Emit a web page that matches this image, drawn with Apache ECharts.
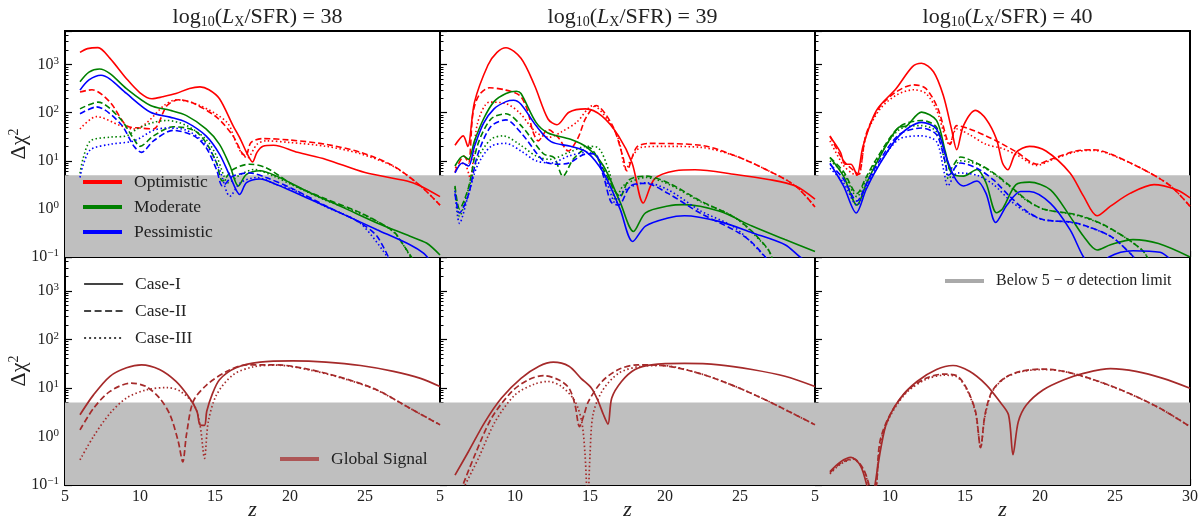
<!DOCTYPE html>
<html>
<head>
<meta charset="utf-8">
<script src="https://cdn.jsdelivr.net/npm/echarts@6/dist/echarts.min.js"></script>
<style>
    html, body { margin: 0; padding: 0; background: #fff; }
    #main { width: 1201px; height: 521px; }
</style>
</head>
<body>
<div id="main"></div>
<script>
// ---- 数据 [z, Δχ²] ----
// log10(Lx/SFR) = 38
var opt38_I = [[6,1800],[6.5,2150],[7.2,2260],[8,1350],[9.1,510],[10,260],[10.8,195],[11.5,214],[12.4,250],[13.3,320],[14,345],[14.6,300],[15.3,195],[16.2,54],[16.7,28],[17.1,15],[17.5,9.5],[17.8,15],[18.2,20],[18.9,21],[20.5,15],[22.4,10.7],[25,5.7],[27.8,3.8],[28.7,3.0],[30,1.8]];
var opt38_II = [[6,270],[6.8,300],[8,166],[9.1,54],[10,48],[10.9,46],[11.8,141],[12.6,186],[13.6,155],[15.1,81],[16.2,33],[16.8,14.5],[17.05,12.5],[17.4,24],[18.2,29],[20,27],[22.4,22],[24.7,15],[26.9,7.8],[28.7,3.0],[30,1.2]];
var opt38_III = [[6,46],[7.1,83],[8.7,54],[9.6,46],[10.4,60],[11.6,141],[12.4,186],[14,141],[15.8,63],[16.4,24],[16.8,14],[17.15,11.5],[17.8,22],[18.4,26],[20,24],[22.4,20],[24.7,14],[26.9,7.6],[28.7,3.0],[30,1.2]];
var mod38_I = [[6,440],[6.6,700],[7.3,810],[8,650],[9.1,316],[10.7,141],[12,112],[13.1,87],[14.4,46],[15.3,22],[16,7.8],[16.55,3.0],[17.1,5.2],[18,6.2],[19.1,4.8],[21.3,2.2],[23.6,1.05],[25.8,0.51],[28,0.27],[29.1,0.195],[30,0.11]];
var mod38_II = [[6,120],[7.2,166],[8.7,74],[9.6,28],[10,20],[10.9,33],[12.2,51],[13.6,43],[14.4,24],[15.1,9.1],[15.5,3.8],[16.2,6.6],[17.3,8.5],[18.4,7.2],[20.2,3.2],[22.4,1.6],[24.7,0.83],[26.9,0.34],[27.6,0.17],[28.3,0.08]];
var mod38_III = [[6,5.5],[6.2,11],[6.7,26],[8,31],[9.1,33],[9.8,46],[10.9,63],[11.8,69],[13.1,54],[14.4,28],[15.1,12.6],[15.6,4.8],[15.85,3.5],[16.7,5.2],[17.6,6.6],[18.9,4.8],[20.2,3.1],[22.4,1.5],[24.7,0.8],[26.9,0.33],[28.2,0.08]];
var pes38_I = [[6,295],[6.6,480],[7.4,600],[8,500],[9.1,251],[10.7,102],[12,81],[13.1,63],[14.4,33],[15.3,13.8],[16,4.8],[16.65,2.0],[17.1,3.5],[18,4.2],[19.1,3.2],[21.3,1.6],[23.6,0.76],[25.8,0.37],[28,0.18],[28.9,0.12],[29.4,0.08]];
var pes38_II = [[6,95],[7.1,132],[8.7,59],[9.6,20],[10.1,15],[10.9,26],[12.2,43],[13.6,33],[14.4,19],[15.1,6.6],[15.5,3.0],[16.2,4.8],[17.3,5.6],[18.4,4.5],[20.2,2.6],[22.4,1.15],[24.7,0.51],[25.8,0.27],[26.7,0.08]];
var pes38_III = [[6,4.5],[6.2,8],[6.7,17],[8,22],[9.6,26],[10.9,43],[11.8,48],[13.1,43],[14.4,22],[15.3,6.6],[16,1.84],[16.7,3.5],[17.8,4.5],[19.1,3.2],[20.2,2.5],[22.4,1.1],[24.7,0.5],[26.7,0.08]];

// log10(Lx/SFR) = 39
var opt39_I = [[6,21],[6.55,33],[6.85,20],[7.3,166],[8.2,980],[8.8,1800],[9.4,2240],[10.4,1350],[11.3,372],[12.2,74],[12.8,56],[13.6,102],[14.7,120],[15.8,85],[16.9,33],[17.8,9.1],[18.55,1.33],[19.3,4.2],[20.7,6.2],[22,6.5],[24.7,5.2],[26.9,4.1],[28.7,3.0],[30,1.6]];
var opt39_II = [[6,5.8],[6.6,12.6],[6.9,9],[7.2,100],[7.6,230],[8.3,330],[9.3,300],[10.3,230],[10.8,120],[11.2,40],[11.55,26],[12.2,45],[12.9,30],[13.55,16],[14.2,30],[14.7,75],[15.4,141],[16.5,54],[17.2,12],[17.45,6.2],[18.1,19],[18.9,23],[22.4,21],[24.7,12.6],[26.9,6.2],[28.7,3.0],[30,1.1]];
var opt39_III = [[6,7.2],[6.6,9],[7.0,4.5],[7.5,60],[8.3,166],[9.4,155],[10.3,100],[11.4,39],[12.3,31],[13.1,40],[14.1,63],[15.2,141],[16.2,70],[16.9,28],[17.4,6.6],[17.8,12],[18.4,19],[20,20],[22.4,19],[24.7,12.6],[26.9,6.2],[28.7,3.0],[30,1.1]];
var mod39_I = [[6,7.8],[6.55,12.6],[6.9,10.7],[7.3,26],[7.9,74],[8.6,170],[9.4,251],[10.1,280],[10.4,251],[11.4,63],[12.2,38],[13.7,28],[14.8,19],[15.9,7.8],[17,1.4],[17.9,0.34],[18.7,0.83],[20.2,1.15],[21.3,1.23],[23.6,0.9],[25.8,0.44],[28,0.23],[30,0.13]];
var mod39_II = [[6,3],[6.3,1.0],[6.9,2.8],[7.5,21],[8.4,74],[9.4,95],[10.5,50],[11.9,14],[12.6,11.7],[13.2,4.8],[13.9,11],[14.9,19],[15.9,6.6],[16.6,2.5],[17.0,1.8],[17.6,4],[18.7,4.8],[20.2,3.5],[22.4,1.45],[24.7,0.65],[25.8,0.34],[26.9,0.14],[27.2,0.08]];
var mod39_III = [[6,2.8],[6.3,0.7],[6.9,2.6],[7.5,11],[8.4,28],[9.2,33],[10.3,22],[11.4,12.6],[12.3,10.7],[13.6,15],[14.8,20],[15.5,19],[16.3,5.6],[16.7,1.5],[17.2,3],[18.2,4.2],[18.7,4.5],[20.2,3.3],[22.4,1.4],[24.7,0.65],[26.9,0.14],[27.2,0.08]];
var pes39_I = [[6,5.6],[6.5,9],[6.9,7.8],[7.3,20],[7.9,60],[8.6,120],[9.4,170],[9.9,182],[10.4,150],[11.4,54],[12.4,25],[13.7,20],[14.8,15],[15.9,5.6],[17,1.0],[17.85,0.21],[18.7,0.44],[20.2,0.65],[21.3,0.72],[23.6,0.55],[25.8,0.32],[28,0.18],[29,0.1],[29.5,0.08]];
var pes39_II = [[6,2.1],[6.3,0.82],[6.9,2.0],[7.5,13],[8.4,52],[9.4,71],[10.5,35],[11.9,10],[12.8,8.5],[13.6,9],[14.7,13.8],[15.3,14],[15.9,4.8],[16.4,1.4],[16.9,1.2],[17.7,3],[18.7,3.4],[20.2,2.1],[22.4,0.8],[24.7,0.35],[25.8,0.2],[26.8,0.09]];
var pes39_III = [[6,2.4],[6.3,0.5],[6.9,2.0],[7.5,8],[8.4,20],[9.4,23],[10.4,16],[11.4,10],[12.4,9],[13.6,12.6],[14.8,15],[15.5,12],[16.3,2.5],[16.7,1.3],[17.2,2.3],[18.2,3.3],[18.7,3.5],[20.2,2.5],[22.4,0.9],[24.7,0.4],[26.8,0.09]];

// log10(Lx/SFR) = 40
var opt40_I = [[6,32],[6.7,15],[7,8.5],[7.4,8.5],[7.8,5],[8.2,20],[9.1,112],[10.4,316],[11.5,910],[12.1,1070],[12.9,710],[13.55,230],[14.1,46],[14.45,17],[14.9,54],[15.7,112],[16.4,74],[17.1,28],[17.5,9],[17.85,6.5],[18.4,14.8],[19.3,20],[20.4,16],[22,5.6],[22.9,1.84],[23.8,0.72],[24.7,1.14],[26,2.1],[27.6,3.2],[29.1,2.5],[30,1.7]];
var opt40_II = [[6,33],[6.9,10],[7.6,6.2],[7.9,5.2],[8.4,35],[9.3,130],[10.4,270],[11.6,380],[12.4,316],[13.2,120],[13.8,28],[14.0,22],[14.45,54],[15.3,46],[16.4,33],[17.3,24],[18.5,14.8],[19.8,8.5],[20.7,10.7],[22.4,16],[23.6,17],[24.7,13.8],[26.9,6.6],[28.7,3.0],[30,1.13]];
var opt40_III = [[6,26],[6.9,8],[7.6,5.2],[7.9,5],[8.4,33],[9.3,115],[10.4,230],[11.6,300],[12.4,250],[13.1,115],[13.7,30],[13.95,22],[14.45,46],[15.3,35],[16.4,22],[17.5,18],[18.5,13],[19.8,8],[20.7,10.2],[22.4,15.5],[23.6,16.5],[24.7,13.5],[26.9,6.6],[28.7,3.0],[30,1.13]];
var mod40_I = [[6,11.7],[6.9,4.8],[7.8,1.2],[8.4,3.2],[9.1,9.1],[10.6,50],[11.1,53],[12.1,103],[13.1,69],[13.7,15],[14.1,5.6],[14.9,4.8],[15.8,6.6],[16.4,3.5],[17.1,0.83],[17.5,1.0],[18.4,3.2],[19.3,3.6],[20.7,2.5],[22,0.7],[22.9,0.27],[23.8,0.14],[24.7,0.18],[26.2,0.23],[27.9,0.19],[30,0.1]];
var mod40_II = [[6,11.7],[6.9,6],[7.8,2.1],[8.4,4.5],[9.1,11],[10.6,50],[12.1,69],[13.1,50],[13.8,10],[14.0,6.6],[14.7,12],[15.8,8.9],[16.9,5.6],[18,3.0],[19.1,1.55],[20.2,1.0],[22.4,0.76],[24.0,0.51],[25.8,0.24],[26.9,0.13],[27.3,0.08]];
var mod40_III = [[6,10],[6.9,5.5],[7.8,1.8],[8.4,4],[9.1,10],[10.6,44],[12.1,54],[13.1,40],[13.7,8],[13.9,4.2],[14.7,10],[15.8,8.5],[16.9,5.4],[18,2.9],[19.1,1.5],[20.2,1.0],[22.4,0.74],[24,0.5],[25.8,0.24],[26.9,0.13],[27.3,0.08]];
var pes40_I = [[6,8.9],[6.9,3.0],[7.75,0.82],[8.4,2.5],[9.1,6.6],[10.6,33],[12.1,63],[13.1,46],[13.8,10.7],[14.4,4],[14.9,3.0],[15.8,3.8],[16.4,2.1],[17.05,0.52],[17.8,1.2],[18.7,2.3],[19.3,2.3],[20.7,1.3],[22,0.37],[22.9,0.1],[23.7,0.05],[24.6,0.1],[26.2,0.135],[28,0.125],[28.7,0.09],[29.3,0.06]];
var pes40_II = [[6,8.5],[6.9,4.2],[7.8,1.45],[8.4,3.2],[9.1,8],[10.6,35],[12.1,48],[13.1,35],[13.7,9],[13.9,5],[14.7,9],[15.8,7],[16.9,4],[18,1.8],[19.1,0.9],[20.2,0.6],[22.4,0.51],[24.7,0.27],[26,0.12],[26.5,0.08]];
var pes40_III = [[6,7],[6.9,3.5],[7.8,1.2],[8.4,2.8],[9.1,7],[10.6,28],[12.1,33],[13.1,25],[13.6,6],[13.85,3],[14.5,5.6],[15.8,5],[16.9,3.2],[18,1.5],[19.1,0.85],[20.2,0.6],[22.4,0.5],[24.7,0.27],[26,0.12],[26.5,0.08]];

// Global Signal
var gs38_I = [[6,2.8],[6.9,7.2],[8,17.4],[9.1,26],[10.1,30],[11.3,24],[12.4,13.6],[13.3,6.2],[13.8,3.3],[14.0,1.74],[14.3,1.7],[14.45,3.3],[14.8,7.2],[15.3,14.8],[16.4,26],[18,34],[20.2,36],[22.4,34],[24.7,29],[26.9,22],[28.7,15.8],[30,10.7]];
var gs38_II = [[6,1.37],[6.9,3.8],[8,8.5],[9.4,12.6],[10.4,10.7],[11.3,6.2],[12,2.8],[12.55,0.79],[12.85,0.3],[13.1,1.1],[13.55,5.3],[14.45,11.6],[15.8,22],[17.1,30],[19.1,30],[21.3,24],[23.6,15.8],[25.8,9.1],[28,3.8],[30,1.74]];
var gs38_III = [[6,0.33],[6.9,1.0],[8,3.0],[9.1,6.2],[10.4,9.1],[11.8,10.2],[12.7,8.5],[13.6,4.5],[14.0,1.74],[14.3,0.355],[14.55,2.0],[15.1,7.2],[16.2,18.6],[17.5,27],[19.1,29.5],[21.3,23.5],[23.6,15.5],[25.8,9.0],[28,3.8],[30,1.74]];
var gs39_I = [[6,0.16],[6.9,0.49],[8,2.0],[9.1,6.2],[10.4,15.8],[11.6,28],[12.55,34],[13.6,28],[14.4,15.8],[15.1,9.9],[15.55,5.3],[15.9,2.8],[16.2,1.8],[16.45,6.2],[17.1,13.6],[18,24],[19.1,30],[21.3,32],[23.6,30],[25.8,24],[28,17.4],[30,10.7]];
var gs39_II = [[6.56,0.107],[7.33,0.42],[8.44,2.4],[9.8,8.5],[10.9,14.8],[11.9,17.9],[12.9,14.8],[13.6,9.9],[14.0,4.5],[14.3,1.6],[14.6,2.8],[14.9,5.3],[15.8,13.6],[16.9,24],[18.2,30],[20.2,28],[22.4,19.5],[24.7,10.7],[26.9,5.3],[30,1.74]];
var gs39_III = [[6.67,0.1],[7.56,0.355],[8.67,2.0],[10,7.2],[11.3,12],[12.2,13.6],[13.1,10.7],[14.0,5.3],[14.45,2.0],[14.67,0.42],[14.85,0.04],[15.0,0.42],[15.2,2.8],[15.8,8.5],[16.9,20],[18.4,28],[19.8,29],[22.4,19.5],[24.7,10.7],[26.9,5.3],[30,1.74]];
var gs40_I = [[6,0.19],[6.7,0.3],[7.4,0.37],[8,0.26],[8.45,0.1],[8.75,0.03],[9.0,0.1],[9.4,0.6],[9.8,2.0],[10.7,6.2],[11.8,13.6],[13.1,24],[14.2,29],[15.3,22],[16.4,11.7],[17.3,5.3],[17.9,2.8],[18.2,0.42],[18.55,2.0],[19.1,4.5],[20.2,9.1],[21.6,14.8],[22.9,20],[24.7,25],[26.4,22],[28.2,15.8],[30,9.9]];
var gs40_II = [[6,0.18],[6.7,0.28],[7.56,0.35],[8.2,0.22],[8.6,0.1],[8.85,0.03],[9.1,0.1],[9.33,0.79],[10,2.8],[11.1,8.5],[12.4,15.8],[13.6,19.3],[14.45,17.9],[15.1,9.9],[15.7,3.3],[16.04,0.59],[16.33,2.8],[16.8,8.5],[17.6,15.8],[18.7,22],[20.2,24.5],[21.6,22],[23.6,14.8],[25.8,8.1],[28,3.8],[30,1.6]];
var gs40_III = [[6,0.17],[6.7,0.27],[7.56,0.34],[8.2,0.21],[8.6,0.09],[8.85,0.03],[9.1,0.1],[9.35,0.7],[10,2.6],[11.1,8],[12.4,15],[13.6,18.3],[14.45,17],[15.1,9.5],[15.7,3.1],[16.04,0.6],[16.33,2.6],[16.8,8.2],[17.6,15.5],[18.7,21.5],[20.2,24],[21.6,21.8],[23.6,14.6],[25.8,8],[28,3.8],[30,1.6]];

var lxValues = ['38', '39', '40'];
var modelNames = ['Optimistic', 'Moderate', 'Pessimistic'];
var caseNames = ['Case-I', 'Case-II', 'Case-III'];
var bandName = 'Below 5 − σ detection limit';
var globalName = 'Global Signal';
var detectionLimit = 5;

var topCurves = [
    [[opt38_I, opt38_II, opt38_III], [mod38_I, mod38_II, mod38_III], [pes38_I, pes38_II, pes38_III]],
    [[opt39_I, opt39_II, opt39_III], [mod39_I, mod39_II, mod39_III], [pes39_I, pes39_II, pes39_III]],
    [[opt40_I, opt40_II, opt40_III], [mod40_I, mod40_II, mod40_III], [pes40_I, pes40_II, pes40_III]]
];
var gsCurves = [
    [gs38_I, gs38_II, gs38_III],
    [gs39_I, gs39_II, gs39_III],
    [gs40_I, gs40_II, gs40_III]
];

// ---- 样式 ----
var FONT = 'Liberation Serif';
var modelColors = ['#ff0000', '#008000', '#0000ff'];
var gsColor = '#a52a2a';
var caseDash = ['solid', [6, 3], [1.5, 2.5]];
var rowTop = [31, 257];
var rowH = [226, 228];

var myChart = echarts.init(document.getElementById('main'));

var grids = [], xAxes = [], yAxes = [], series = [], titles = [];

for (var r = 0; r < 2; r++) {
    for (var c = 0; c < 3; c++) {
        var g = r * 3 + c;
        grids.push({
            left: 65 + 375 * c, top: rowTop[r], width: 375, height: rowH[r],
            outerBoundsMode: 'none', containLabel: false,
            show: true, borderColor: '#000', borderWidth: 2, backgroundColor: 'transparent'
        });
        xAxes.push({
            gridIndex: g, type: 'value', min: 5, max: 30, interval: 5,
            axisLine: { show: true, onZero: false, lineStyle: { color: '#000', width: 2 } },
            axisTick: { inside: true, length: 6, lineStyle: { color: '#000', width: 1.2 } },
            splitLine: { show: false },
            axisLabel: {
                show: r === 1, margin: 4, color: '#222', fontFamily: FONT, fontSize: 16,
                formatter: (function (col) {
                    return function (v) { return (v === 30 && col < 2) ? '' : String(v); };
                })(c)
            },
            name: r === 1 ? 'z' : '', nameLocation: 'middle', nameGap: 25, nameMoveOverlap: false,
            nameTextStyle: { fontFamily: FONT, fontStyle: 'italic', fontSize: 22, color: '#222', verticalAlign: 'middle' }
        });
        yAxes.push({
            gridIndex: g, type: 'log', logBase: 10, min: 0.1, max: 5000,
            axisLine: { show: true, lineStyle: { color: '#000', width: 2 } },
            axisTick: { inside: true, length: 7, lineStyle: { color: '#000', width: 1.2 } },
            minorTick: { show: true, splitNumber: 9, length: 3.5, lineStyle: { color: '#000', width: 1 } },
            splitLine: { show: false },
            axisLabel: {
                show: c === 0, margin: 6,
                formatter: function (v) {
                    var lg = Math.log10(v), e = Math.round(lg);
                    if (Math.abs(lg - e) > 1e-6) return '';
                    return '{b|10}{s|' + (e < 0 ? '−' + (-e) : e) + '}';
                },
                rich: {
                    b: { fontFamily: FONT, fontSize: 16, color: '#222', lineHeight: 18 },
                    s: { fontFamily: FONT, fontSize: 11, color: '#222', lineHeight: 6, verticalAlign: 'top' }
                }
            },
            name: c === 0 ? '{a|Δχ}{s|2}' : '', nameLocation: 'middle', nameRotate: 90, nameGap: 46,
            nameMoveOverlap: false,
            nameTextStyle: {
                verticalAlign: 'middle',
                rich: {
                    a: { fontFamily: FONT, fontSize: 22, color: '#222', lineHeight: 24 },
                    s: { fontFamily: FONT, fontSize: 14, color: '#222', lineHeight: 8, verticalAlign: 'top' }
                }
            }
        });
        // 灰色区域：低于 5σ 探测极限
        series.push({
            type: 'line', xAxisIndex: g, yAxisIndex: g, data: [], silent: true, z: 1,
            markArea: { silent: true, itemStyle: { color: '#bfbfbf' }, data: [[{ yAxis: 0.1 }, { yAxis: detectionLimit }]] }
        });
    }
}

// 上排：三个模型 × 三种情况
for (var c = 0; c < 3; c++) {
    for (var m = 0; m < 3; m++) {
        for (var k = 0; k < 3; k++) {
            series.push({
                type: 'line', name: modelNames[m] + ' ' + caseNames[k],
                xAxisIndex: c, yAxisIndex: c, data: topCurves[c][m][k],
                symbol: 'none', smooth: 0.3, clip: true, silent: true, z: 3,
                lineStyle: { color: modelColors[m], width: 1.6, type: caseDash[k] }
            });
        }
    }
}
// 下排：全局信号
for (var c = 0; c < 3; c++) {
    for (var k = 0; k < 3; k++) {
        series.push({
            type: 'line', name: globalName + ' ' + caseNames[k],
            xAxisIndex: 3 + c, yAxisIndex: 3 + c, data: gsCurves[c][k],
            symbol: 'none', smooth: 0.3, clip: true, silent: true, z: 3,
            lineStyle: { color: gsColor, width: 1.7, type: caseDash[k] }
        });
    }
}

// 图例用的空系列
function legendSeries(name, color, width, dash, g) {
    return {
        type: 'line', name: name, xAxisIndex: g, yAxisIndex: g, data: [], symbol: 'none',
        lineStyle: { color: color, width: width, type: dash }
    };
}
for (var m = 0; m < 3; m++) series.push(legendSeries(modelNames[m], modelColors[m], 4, 'solid', 0));
for (var k = 0; k < 3; k++) series.push(legendSeries(caseNames[k], '#444', 2.2, k === 0 ? 'solid' : (k === 1 ? [7, 3.5] : [2, 3]), 3));
series.push(legendSeries(globalName, 'rgba(165,42,42,0.7)', 4, 'solid', 3));
series.push(legendSeries(bandName, '#aaaaaa', 4, 'solid', 5));

function makeLegend(names, left, top, gap, size) {
    return {
        data: names, left: left, top: top, orient: 'vertical', padding: 0,
        itemWidth: 39, itemHeight: 18, itemGap: gap, selectedMode: false,
        itemStyle: { opacity: 0 },
        lineStyle: { width: 'inherit' },
        textStyle: {
            fontFamily: FONT, fontSize: size, color: '#222', padding: [0, 0, 0, 7],
            rich: { i: { fontFamily: FONT, fontSize: size, fontStyle: 'italic', color: '#222' } }
        },
        formatter: function (name) {
            return name === bandName ? 'Below 5 − {i|σ} detection limit' : name;
        }
    };
}

for (var c = 0; c < 3; c++) {
    titles.push({
        text: '{n|log}{s|10}{n|(}{i|L}{s|X}{n|/SFR) = ' + lxValues[c] + '}',
        left: 65 + 375 * c + 187.5, top: 0, textAlign: 'center',
        textStyle: {
            fontWeight: 'normal',
            rich: {
                n: { fontFamily: FONT, fontSize: 22, fontWeight: 'normal', color: '#222', lineHeight: 24 },
                i: { fontFamily: FONT, fontSize: 22, fontWeight: 'normal', fontStyle: 'italic', color: '#222', lineHeight: 24 },
                s: { fontFamily: FONT, fontSize: 14, fontWeight: 'normal', color: '#222', lineHeight: 13, verticalAlign: 'bottom' }
            }
        }
    });
}

var option = {
    animation: false,
    backgroundColor: '#fff',
    title: titles,
    grid: grids,
    xAxis: xAxes,
    yAxis: yAxes,
    legend: [
        makeLegend(modelNames, 81, 173, 7, 17.5),
        makeLegend(caseNames, 83, 275, 9, 17.5),
        makeLegend([globalName], 278, 450, 0, 17.5),
        makeLegend([bandName], 943, 273, 0, 16)
    ],
    series: series
};

myChart.setOption(option);
</script>
</body>
</html>
